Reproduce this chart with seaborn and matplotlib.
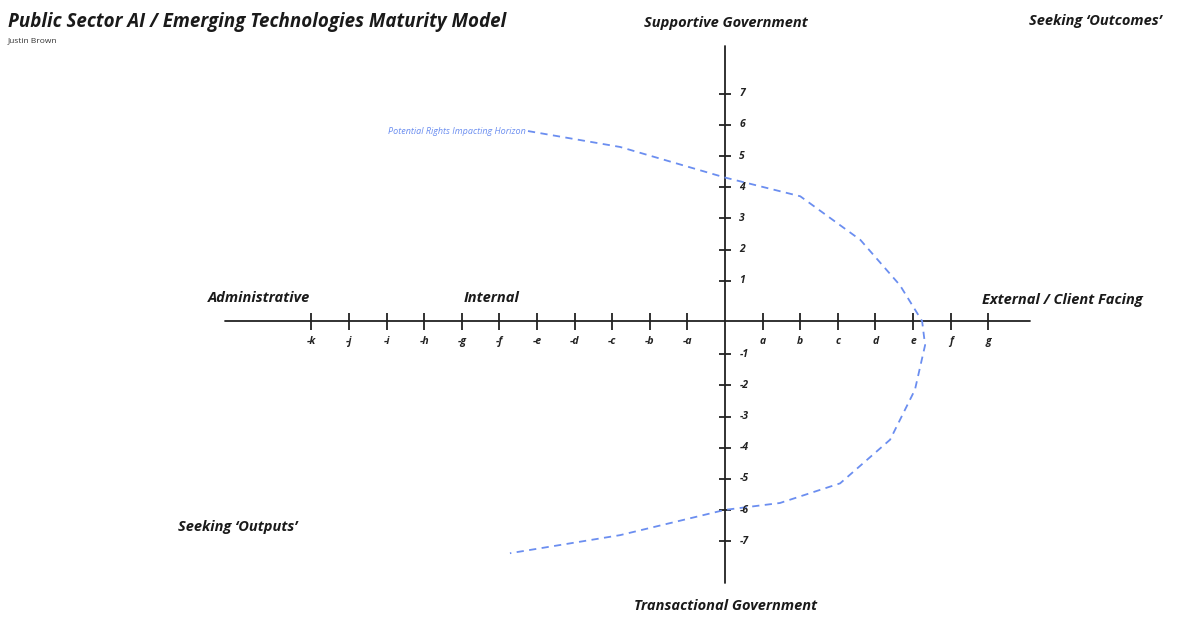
import matplotlib
matplotlib.use("Agg")
import matplotlib.pyplot as plt
import seaborn as sns
import pandas as pd

sns.set_theme(style="white")
plt.rcParams['font.family'] = ['Open Sans', 'DejaVu Sans']

x_tick_vals = [-11, -10, -9, -8, -7, -6, -5, -4, -3, -2, -1, 1, 2, 3, 4, 5, 6, 7]
x_tick_labels = ['-k', '-j', '-i', '-h', '-g', '-f', '-e', '-d', '-c', '-b', '-a', 'a', 'b', 'c', 'd', 'e', 'f', 'g']
y_tick_vals = [7, 6, 5, 4, 3, 2, 1, -1, -2, -3, -4, -5, -6, -7]
y_tick_labels = ['7', '6', '5', '4', '3', '2', '1', '-1', '-2', '-3', '-4', '-5', '-6', '-7']

horizon_x = [-5.24, -2.79, 0.0, 2.0, 3.6, 4.65, 5.24, 5.32, 5.05, 4.39, 3.06, 1.46, 0.0, -2.79, -5.72]
horizon_y = [6.09, 5.58, 4.6, 4.0, 2.6, 1.15, 0.0, -0.77, -2.2, -3.8, -5.2, -5.83, -6.05, -6.86, -7.44]

fig = plt.figure(figsize=(12, 6.3), dpi=100)
ax = fig.add_axes([0, 0, 1, 1])
ax.set_xlim(-19.28, 12.63)
ax.set_ylim(-9.9, 10.29)
ax.axis('off')

axis_col = '#222222'
ax.plot([-13.3, 8.1], [0, 0], color=axis_col, lw=1.3)
ax.plot([0, 0], [-8.4, 8.8], color=axis_col, lw=1.3)
ax.vlines(x_tick_vals, -0.27, 0.27, color=axis_col, lw=1.3)
y_pos = [v + 0.29 if v > 0 else v - 0.06 for v in y_tick_vals]
ax.hlines(y_pos, -0.17, 0.17, color=axis_col, lw=1.3)

tkw = dict(fontsize=7.5, fontweight='bold', fontstyle='italic', color='#222222')
for v, l in zip(x_tick_vals, x_tick_labels):
    ax.text(v, -0.65, l, ha='center', va='center', **tkw)
for v, l in zip(y_pos, y_tick_labels):
    ax.text(0.38, v, l, ha='left', va='center', **tkw)

df = pd.DataFrame({'x': horizon_x, 'y': horizon_y})
sns.lineplot(data=df, x='x', y='y', sort=False, estimator=None, errorbar=None,
             ax=ax, color='#6b8ef0', lw=1.3, linestyle=(0, (4, 3)), legend=False)
ax.set_xlabel(''); ax.set_ylabel('')

def ft(px, py, s, size, ha='center', **kw):
    fig.text(px / 1200, 1 - py / 630, s, ha=ha, va='center', fontsize=size, **kw)

bi = dict(fontweight='bold', fontstyle='italic', color='#1a1a1a')
ft(8, 22, 'Public Sector AI / Emerging Technologies Maturity Model', 13.5, ha='left', **bi)
ft(8, 41, 'Justin Brown', 6, ha='left', color='#333333')
ft(726, 23, 'Supportive Government', 10.5, **bi)
ft(1095, 21, 'Seeking ‘Outcomes’', 10.5, **bi)
ft(259, 298, 'Administrative', 10.5, **bi)
ft(492, 298, 'Internal', 10.5, **bi)
ft(1062, 300, 'External / Client Facing', 10.5, **bi)
ft(238, 527, 'Seeking ‘Outputs’', 10.5, **bi)
ft(726, 606, 'Transactional Government', 10.5, **bi)
ft(526, 131, 'Potential Rights Impacting Horizon', 6.5, ha='right', fontstyle='italic', color='#6b8ef0')

fig.savefig('out.png', dpi=100)
